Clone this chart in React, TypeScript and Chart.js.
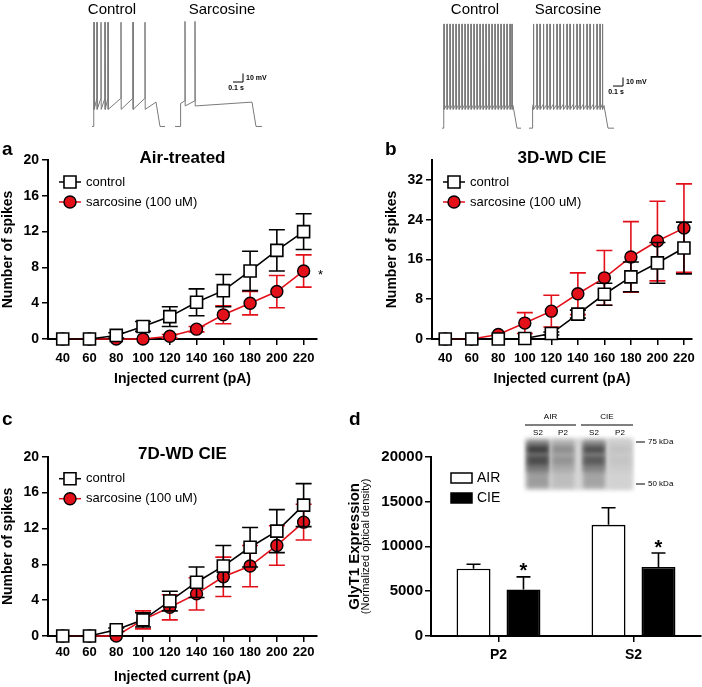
import React, { useEffect, useRef } from 'react';
import { Chart, registerables } from 'chart.js';

Chart.register(...registerables);

const FONT = "'Liberation Sans', Arial, Helvetica, sans-serif";
Chart.defaults.font.family = FONT;
Chart.defaults.color = '#000';

// ---------------- data ----------------
const currents = [40, 60, 80, 100, 120, 140, 160, 180, 200, 220];
const spikeTicks20 = [0, 4, 8, 12, 16, 20];
const spikeTicks32 = [0, 8, 16, 24, 32];

// a: Air-treated
const airControl = [0, 0, 0.4, 1.4, 2.5, 4.1, 5.4, 7.6, 9.9, 12.0];
const airControlErr = [0, 0, 0.3, 0.55, 1.1, 1.5, 1.8, 2.2, 2.3, 2.0];
const airSarc = [0, 0, 0, 0, 0.3, 1.1, 2.7, 4.0, 5.3, 7.6];
const airSarcErr = [0, 0, 0, 0, 0.2, 0.3, 1.0, 1.3, 1.8, 1.8];

// b: 3D-WD CIE
const cie3Control = [0, 0, 0, 0.1, 1.1, 5.0, 9.0, 12.5, 15.3, 18.3];
const cie3ControlErr = [0, 0, 0, 0, 0.3, 0.8, 2.2, 3.0, 4.1, 5.2];
const cie3Sarc = [0, 0, 0.9, 3.2, 5.6, 9.1, 12.3, 16.5, 19.7, 22.3];
const cie3SarcErr = [0, 0, 0, 2.1, 3.2, 4.2, 5.5, 7.1, 8.0, 8.9];

// c: 7D-WD CIE
const cie7Control = [0, 0, 0.7, 1.8, 3.9, 6.0, 7.8, 9.9, 11.7, 14.6];
const cie7ControlErr = [0, 0, 0.2, 0.8, 1.1, 1.7, 2.3, 2.2, 2.4, 2.4];
const cie7Sarc = [0, 0, 0, 1.8, 3.2, 4.7, 6.6, 7.8, 10.1, 12.7];
const cie7SarcErr = [0, 0, 0, 1.0, 1.4, 1.8, 2.2, 2.3, 2.2, 2.0];

// d: GlyT1 expression
const fractions = ['P2', 'S2'];
const airExpr = [7500, 12400];
const airExprErr = [500, 1900];
const cieExpr = [5200, 7700];
const cieExprErr = [1400, 1550];
const exprTicks = [0, 5000, 10000, 15000, 20000];

// western blot inset
const blotGroups = ['AIR', 'CIE'];
const blotLanes = ['S2', 'P2', 'S2', 'P2'];
const blotLaneDensity = [0.9, 0.45, 0.8, 0.15];
const blotMarkers = ['75 kDa', '50 kDa'];

// example traces (spike times in s, relative to each trace group)
const leftControlSpikes = [0.14, 0.17, 0.21, 0.25, 0.28, 0.41, 0.53, 0.65];
const leftSarcSpikes = [1.05, 1.15];
const rightControlSpikes = [0.14, 0.17, 0.2, 0.23, 0.26, 0.29, 0.32, 0.35, 0.38, 0.41, 0.44, 0.47, 0.5, 0.53, 0.56, 0.59, 0.62, 0.65, 0.68, 0.71, 0.74, 0.77, 0.8, 0.82];
const rightSarcSpikes = [1.035, 1.07, 1.1, 1.135, 1.17, 1.2, 1.235, 1.27, 1.3, 1.335, 1.37, 1.4, 1.435, 1.47, 1.5, 1.535, 1.57, 1.6, 1.635, 1.67, 1.7, 1.725];

const RED = '#e3101a';

// ---------------- plugins ----------------
const errorBarsPlugin = {
  id: 'errorBars',
  beforeDatasetDraw(chart: any, args: any) {
    const ds = chart.data.datasets[args.index];
    const errs: number[] | undefined = ds.errors;
    if (!errs) return;
    const yScale = chart.scales.y;
    const ctx = chart.ctx;
    const cap = ds.capWidth ?? 16;
    ctx.save();
    ctx.strokeStyle = ds.errColor;
    ctx.lineWidth = 1.6;
    args.meta.data.forEach((el: any, i: number) => {
      const e = errs[i];
      if (!e) return;
      const raw = ds.data[i];
      const v = typeof raw === 'number' ? raw : raw.y;
      const x = el.x;
      const top = yScale.getPixelForValue(v + e);
      const bottom = ds.upperOnly ? el.y : yScale.getPixelForValue(v - e);
      ctx.beginPath();
      ctx.moveTo(x, top);
      ctx.lineTo(x, bottom);
      ctx.moveTo(x - cap / 2, top);
      ctx.lineTo(x + cap / 2, top);
      if (!ds.upperOnly) {
        ctx.moveTo(x - cap / 2, bottom);
        ctx.lineTo(x + cap / 2, bottom);
      }
      ctx.stroke();
    });
    ctx.restore();
  },
};

function drawMarker(ctx: CanvasRenderingContext2D, ds: any, x: number, y: number) {
  ctx.lineWidth = ds.pointBorderWidth;
  ctx.strokeStyle = ds.pointBorderColor;
  ctx.fillStyle = ds.pointBackgroundColor;
  ctx.beginPath();
  if (ds.pointStyle === 'rect') {
    const s = Math.SQRT1_2 * ds.pointRadius;
    ctx.rect(x - s, y - s, 2 * s, 2 * s);
  } else {
    ctx.arc(x, y, ds.pointRadius, 0, Math.PI * 2);
  }
  ctx.fill();
  ctx.stroke();
}

function spikeDeco(spec: any) {
  return {
    id: 'spikeDeco',
    afterDraw(chart: any) {
      const { ctx, chartArea: ca } = chart;
      ctx.save();
      ctx.fillStyle = '#000';
      ctx.font = `bold 19px ${FONT}`;
      ctx.textAlign = 'left';
      ctx.textBaseline = 'alphabetic';
      ctx.fillText(spec.letter, spec.letterX, 15);

      ctx.font = `bold 17px ${FONT}`;
      ctx.textAlign = 'center';
      ctx.textBaseline = 'middle';
      ctx.fillText(spec.title, (ca.left + ca.right) / 2, ca.top - 2);

      const lx = ca.left + 22;
      chart.data.datasets.forEach((ds: any, i: number) => {
        const y = ca.top + 22 + i * 20;
        ctx.strokeStyle = ds.borderColor;
        ctx.lineWidth = 1.5;
        ctx.beginPath();
        ctx.moveTo(lx - 11, y);
        ctx.lineTo(lx + 11, y);
        ctx.stroke();
        drawMarker(ctx, ds, lx, y);
        ctx.fillStyle = '#000';
        ctx.font = `13px ${FONT}`;
        ctx.textAlign = 'left';
        ctx.textBaseline = 'middle';
        ctx.fillText(ds.label, lx + 16, y);
      });

      if (spec.star) {
        const meta = chart.getDatasetMeta(1);
        const el = meta.data[meta.data.length - 1];
        ctx.fillStyle = '#000';
        ctx.font = `13px ${FONT}`;
        ctx.textAlign = 'center';
        ctx.textBaseline = 'alphabetic';
        ctx.fillText('*', el.x + 17, el.y + 8.5);
      }
      ctx.restore();
    },
  };
}

function baseAxis(extra: any) {
  return {
    grid: { display: true, drawOnChartArea: false, drawTicks: true, tickLength: 6, tickWidth: 1.5, color: '#000', lineWidth: 1.5 },
    border: { display: true, color: '#000', width: 2 },
    ...extra,
  };
}

function spikeConfig(p: any) {
  return {
    type: 'line',
    data: {
      datasets: [
        {
          label: 'control',
          data: currents.map((c, i) => ({ x: c, y: p.control[i] })),
          errors: p.controlErr,
          errColor: '#000',
          borderColor: '#000',
          borderWidth: 1.6,
          pointStyle: 'rect',
          pointRadius: 8.5,
          pointBackgroundColor: '#fff',
          pointBorderColor: '#000',
          pointBorderWidth: 1.6,
          clip: false,
        },
        {
          label: 'sarcosine (100 uM)',
          data: currents.map((c, i) => ({ x: c, y: p.sarc[i] })),
          errors: p.sarcErr,
          errColor: RED,
          borderColor: RED,
          borderWidth: 1.6,
          pointStyle: 'circle',
          pointRadius: 6,
          pointBackgroundColor: RED,
          pointBorderColor: '#000',
          pointBorderWidth: 1.4,
          clip: false,
        },
      ],
    },
    options: {
      animation: false,
      responsive: false,
      devicePixelRatio: 1,
      events: [],
      layout: { padding: p.padding },
      plugins: { legend: { display: false }, tooltip: { enabled: false } },
      scales: {
        x: baseAxis({
          type: 'linear',
          min: p.xMin,
          max: p.xMax,
          afterBuildTicks: (s: any) => { s.ticks = currents.map((v) => ({ value: v })); },
          afterFit: (s: any) => { s.height = p.xHeight; s.paddingLeft = 0; s.paddingRight = 0; },
          ticks: { font: { size: 13, weight: 'bold' }, color: '#000', padding: p.xTickPad, maxRotation: 0, autoSkip: false, callback: (v: any) => String(v) },
          title: { display: true, text: 'Injected current (pA)', font: { size: 14, weight: 'bold' }, color: '#000', padding: { top: 0, bottom: p.xTitlePad } },
        }),
        y: baseAxis({
          type: 'linear',
          min: 0,
          max: p.yMax,
          afterBuildTicks: (s: any) => { s.ticks = p.yTicks.map((v: number) => ({ value: v })); },
          afterFit: (s: any) => { s.width = p.yWidth; s.paddingTop = 0; s.paddingBottom = 0; },
          ticks: { font: { size: 14, weight: 'bold' }, color: '#000', padding: 3, callback: (v: any) => String(v) },
          title: { display: true, text: 'Number of spikes', font: { size: 14, weight: 'bold' }, color: '#000', padding: { top: p.yTitlePad, bottom: 0 } },
        }),
      },
    },
    plugins: [errorBarsPlugin, spikeDeco(p)],
  };
}

const exprDeco = {
  id: 'exprDeco',
  afterDraw(chart: any) {
    const { ctx, chartArea: ca } = chart;
    ctx.save();
    ctx.fillStyle = '#000';
    ctx.font = `bold 19px ${FONT}`;
    ctx.textAlign = 'left';
    ctx.textBaseline = 'alphabetic';
    ctx.fillText('d', 9, 15);

    // y title
    const cy = (ca.top + ca.bottom) / 2;
    ctx.save();
    ctx.translate(15, cy);
    ctx.rotate(-Math.PI / 2);
    ctx.textAlign = 'center';
    ctx.textBaseline = 'middle';
    ctx.font = `bold 15px ${FONT}`;
    ctx.fillText('GlyT1 Expression', 0, 0);
    ctx.font = `11px ${FONT}`;
    ctx.fillText('(Normalized optical density)', 0, 11);
    ctx.restore();

    // legend
    chart.data.datasets.forEach((ds: any, i: number) => {
      const y = ca.top + 21.3 + i * 20;
      ctx.fillStyle = ds.backgroundColor;
      ctx.strokeStyle = '#000';
      ctx.lineWidth = 1.5;
      ctx.fillRect(ca.left + 20, y - 5, 21, 10);
      ctx.strokeRect(ca.left + 20, y - 5, 21, 10);
      ctx.fillStyle = '#000';
      ctx.font = `14px ${FONT}`;
      ctx.textAlign = 'left';
      ctx.textBaseline = 'middle';
      ctx.fillText(ds.label, ca.left + 46, y);
    });

    // significance stars above CIE bars
    const meta = chart.getDatasetMeta(1);
    const y = chart.scales.y;
    meta.data.forEach((el: any, i: number) => {
      const top = y.getPixelForValue(cieExpr[i] + cieExprErr[i]);
      ctx.font = `bold 20px ${FONT}`;
      ctx.textAlign = 'center';
      ctx.textBaseline = 'alphabetic';
      ctx.fillText('*', el.x, top + 0.5);
    });

    // western blot inset
    const bx = 185, by = 28, bw = 108, bh = 52;
    const laneX = [187, 212, 243, 269];
    const laneW = 22;
    ctx.save();
    ctx.fillStyle = '#d6d6d6';
    ctx.filter = 'blur(2px)';
    ctx.fillRect(bx, by, bw, bh);
    blotLaneDensity.forEach((d, i) => {
      const g1 = Math.round(220 - d * 175);
      const g2 = Math.round(220 - d * 160);
      const g3 = Math.round(220 - d * 110);
      const g4 = Math.round(220 - d * 70);
      ctx.fillStyle = `rgb(${g4},${g4},${g4})`;
      ctx.fillRect(laneX[i], by + 2, laneW, bh - 4);
      ctx.fillStyle = `rgb(${g3},${g3},${g3})`;
      ctx.fillRect(laneX[i], by + 4, laneW, 30);
      ctx.fillStyle = `rgb(${g1},${g1},${g1})`;
      ctx.fillRect(laneX[i] + 1, by + 8, laneW - 2, 7);
      ctx.fillStyle = `rgb(${g2},${g2},${g2})`;
      ctx.fillRect(laneX[i] + 1, by + 18, laneW - 2, 9);
    });
    ctx.restore();

    ctx.fillStyle = '#000';
    ctx.strokeStyle = '#000';
    ctx.lineWidth = 1;
    ctx.font = `8px ${FONT}`;
    ctx.textAlign = 'center';
    ctx.textBaseline = 'middle';
    blotGroups.forEach((g, gi) => {
      const x0 = laneX[gi * 2] - 2;
      const x1 = laneX[gi * 2 + 1] + laneW + 2;
      ctx.fillText(g, (x0 + x1) / 2, 7);
      ctx.beginPath();
      ctx.moveTo(x0, 15);
      ctx.lineTo(x1, 15);
      ctx.stroke();
    });
    blotLanes.forEach((l, i) => ctx.fillText(l, laneX[i] + laneW / 2, 23));
    ctx.textAlign = 'left';
    blotMarkers.forEach((m, i) => {
      const yy = i === 0 ? 32 : 74;
      ctx.beginPath();
      ctx.moveTo(296, yy);
      ctx.lineTo(305, yy);
      ctx.stroke();
      ctx.fillText(m, 308, yy);
    });
    ctx.restore();
  },
};

function exprConfig() {
  return {
    type: 'bar',
    data: {
      labels: fractions,
      datasets: [
        { label: 'AIR', data: airExpr, errors: airExprErr, errColor: '#000', upperOnly: true, capWidth: 14, backgroundColor: '#fff', borderColor: '#000', borderWidth: 1.6, borderSkipped: 'bottom', categoryPercentage: 0.74, barPercentage: 0.68 },
        { label: 'CIE', data: cieExpr, errors: cieExprErr, errColor: '#000', upperOnly: true, capWidth: 14, backgroundColor: '#000', borderColor: '#000', borderWidth: 1.6, borderSkipped: 'bottom', categoryPercentage: 0.74, barPercentage: 0.68 },
      ],
    },
    options: {
      animation: false,
      responsive: false,
      devicePixelRatio: 1,
      events: [],
      layout: { padding: { left: 0, top: 46.7, right: 1, bottom: 0 } },
      plugins: { legend: { display: false }, tooltip: { enabled: false } },
      scales: {
        x: baseAxis({
          type: 'category',
          offset: true,
          grid: { display: true, offset: false, drawOnChartArea: false, drawTicks: true, tickLength: 6, tickWidth: 1.5, color: '#000', lineWidth: 1.5 },
          afterFit: (s: any) => { s.height = 51; s.paddingLeft = 0; s.paddingRight = 0; },
          ticks: { font: { size: 14, weight: 'bold' }, color: '#000', padding: 4.5 },
        }),
        y: baseAxis({
          type: 'linear',
          min: 0,
          max: 20000,
          afterBuildTicks: (s: any) => { s.ticks = exprTicks.map((v) => ({ value: v })); },
          afterFit: (s: any) => { s.width = 91; s.paddingTop = 0; s.paddingBottom = 0; },
          ticks: { font: { size: 15, weight: 'bold' }, color: '#000', padding: 2, callback: (v: any) => String(v) },
        }),
      },
    },
    plugins: [errorBarsPlugin, exprDeco],
  };
}

// ---------------- traces ----------------
function buildTrace(tr: any) {
  const pts: { x: number; y: number }[] = [
    { x: tr.start, y: tr.rest },
    { x: tr.on, y: tr.rest },
    { x: tr.on + 0.006, y: tr.plateau },
  ];
  tr.spikes.forEach((t: number) => {
    pts.push({ x: t - 0.001, y: tr.plateau + tr.ramp });
    pts.push({ x: t, y: tr.peak });
    pts.push({ x: t + 0.002, y: tr.plateau - tr.ahp });
  });
  pts.push({ x: tr.off, y: tr.plateau + tr.ramp / 2 });
  pts.push({ x: tr.off + 0.04, y: tr.rest });
  pts.push({ x: tr.end, y: tr.rest });
  return pts;
}

function traceConfig(defs: any[], xMax: number, bar: { t: number; v: number }) {
  const plugin = {
    id: 'traceDeco',
    afterDraw(chart: any) {
      const { ctx } = chart;
      const xs = chart.scales.x;
      const ys = chart.scales.y;
      ctx.save();
      ctx.fillStyle = '#000';
      ctx.font = `15px ${FONT}`;
      ctx.textAlign = 'center';
      ctx.textBaseline = 'middle';
      defs.forEach((d) => ctx.fillText(d.name, xs.getPixelForValue(d.labelT), 10));
      // scale bar: 0.1 s, 10 mV
      const x0 = xs.getPixelForValue(bar.t);
      const x1 = xs.getPixelForValue(bar.t + 0.1);
      const y0 = ys.getPixelForValue(bar.v);
      const y1 = ys.getPixelForValue(bar.v + 10);
      ctx.strokeStyle = '#000';
      ctx.lineWidth = 1;
      ctx.beginPath();
      ctx.moveTo(x0, y0);
      ctx.lineTo(x1, y0);
      ctx.lineTo(x1, y1);
      ctx.stroke();
      ctx.font = `bold 7px ${FONT}`;
      ctx.textAlign = 'left';
      ctx.fillText('10 mV', x1 + 3, (y0 + y1) / 2);
      ctx.textAlign = 'center';
      ctx.fillText('0.1 s', (x0 + x1) / 2 - 2, y0 + 6);
      ctx.restore();
    },
  };
  return {
    type: 'line',
    data: {
      datasets: defs.map((d) => ({
        data: buildTrace(d),
        borderColor: '#7a7a7a',
        borderWidth: 1,
        pointRadius: 0,
        tension: 0,
      })),
    },
    options: {
      animation: false,
      responsive: false,
      devicePixelRatio: 1,
      events: [],
      layout: { padding: 0 },
      plugins: { legend: { display: false }, tooltip: { enabled: false } },
      scales: {
        x: { type: 'linear', min: 0, max: xMax, display: false },
        y: { type: 'linear', min: -80, max: 78, display: false },
      },
    },
    plugins: [plugin],
  };
}

const leftTraces = [
  { name: 'Control', labelT: 0.32, start: 0.12, on: 0.13, off: 0.76, end: 0.85, rest: -70, plateau: -46, ramp: 9, ahp: 4, peak: 52, spikes: leftControlSpikes },
  { name: 'Sarcosine', labelT: 1.42, start: 0.95, on: 1.0, off: 1.72, end: 1.82, rest: -70, plateau: -43, ramp: 3, ahp: 3, peak: 53, spikes: leftSarcSpikes },
];
const rightTraces = [
  { name: 'Control', labelT: 0.45, start: 0.12, on: 0.13, off: 0.83, end: 0.91, rest: -72, plateau: -47, ramp: 3, ahp: 3, peak: 50, spikes: rightControlSpikes },
  { name: 'Sarcosine', labelT: 1.38, start: 0.99, on: 1.02, off: 1.74, end: 1.84, rest: -72, plateau: -47, ramp: 3, ahp: 3, peak: 50, spikes: rightSarcSpikes },
];

// ---------------- components ----------------
function ChartBox({ left, top, width, height, make }: any) {
  const ref = useRef<HTMLCanvasElement>(null);
  useEffect(() => {
    const chart = new Chart(ref.current as HTMLCanvasElement, make() as any);
    return () => chart.destroy();
  }, [make]);
  return (
    <canvas
      ref={ref}
      width={width}
      height={height}
      style={{ position: 'absolute', left, top, width, height, display: 'block' }}
    />
  );
}

const makeLeftTraces = () => traceConfig(leftTraces, 2.2, { t: 1.53, v: -18 });
const makeRightTraces = () => traceConfig(rightTraces, 2.3, { t: 1.83, v: -22.7 });

const makeA = () =>
  spikeConfig({
    letter: 'a', letterX: 2, title: 'Air-treated', star: true,
    control: airControl, controlErr: airControlErr, sarc: airSarc, sarcErr: airSarcErr,
    yMax: 20, yTicks: spikeTicks20, xMin: 29, xMax: 230,
    padding: { left: 0, top: 20, right: 33, bottom: 0 },
    yWidth: 48, xHeight: 61, yTitlePad: 0, xTickPad: 6, xTitlePad: 12,
  });
const makeB = () =>
  spikeConfig({
    letter: 'b', letterX: 35, title: '3D-WD CIE', star: false,
    control: cie3Control, controlErr: cie3ControlErr, sarc: cie3Sarc, sarcErr: cie3SarcErr,
    yMax: 36, yTicks: spikeTicks32, xMin: 30, xMax: 226,
    padding: { left: 0, top: 20, right: 2, bottom: 0 },
    yWidth: 82, xHeight: 61, yTitlePad: 33.6, xTickPad: 6, xTitlePad: 12,
  });
const makeC = () =>
  spikeConfig({
    letter: 'c', letterX: 2, title: '7D-WD CIE', star: false,
    control: cie7Control, controlErr: cie7ControlErr, sarc: cie7Sarc, sarcErr: cie7SarcErr,
    yMax: 20, yTicks: spikeTicks20, xMin: 29, xMax: 230,
    padding: { left: 0, top: 46.7, right: 33, bottom: 0 },
    yWidth: 48, xHeight: 51, yTitlePad: 0, xTickPad: 3, xTitlePad: 1.5,
  });

export default function App() {
  return (
    <div style={{ position: 'absolute', left: 0, top: 0, width: 702, height: 687, background: '#fff', overflow: 'hidden' }}>
      <ChartBox left={80} top={0} width={220} height={135} make={makeLeftTraces} />
      <ChartBox left={430} top={0} width={230} height={135} make={makeRightTraces} />
      <ChartBox left={0} top={140} width={350} height={260} make={makeA} />
      <ChartBox left={350} top={140} width={352} height={260} make={makeB} />
      <ChartBox left={0} top={410} width={350} height={277} make={makeC} />
      <ChartBox left={340} top={410} width={362} height={277} make={exprConfig} />
    </div>
  );
}
